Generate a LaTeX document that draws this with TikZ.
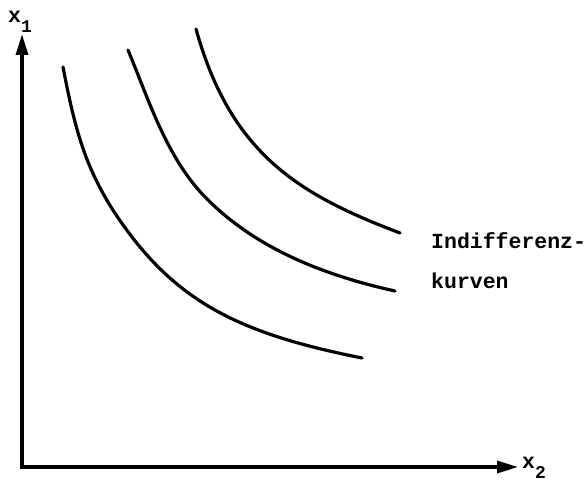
\documentclass[tikz,border=0pt]{standalone}
\usepackage{fontspec}
\setmonofont{Liberation Mono}
\usetikzlibrary{arrows.meta}
\tikzset{
  axis/.style={line width=3.4pt, -{Triangle[length=21pt,width=12pt]}},
  curve/.style={line width=3.2pt, line cap=round},
  lbl/.style={font=\ttfamily\bfseries\fontsize{21.5}{24}\selectfont, inner sep=0pt, anchor=base west},
}
\newcommand{\lowsub}[1]{\raisebox{-10pt}{\fontsize{18}{18}\selectfont #1}}
\begin{document}
\begin{tikzpicture}[x=1pt,y=-1pt]
\useasboundingbox (0,0) rectangle (588,484);
\coordinate (O) at (22,467);
\coordinate (Ytip) at (22,34);
\coordinate (Xtip) at (518,467);
\draw[axis] (22,468.7) -- (Ytip);
\draw[axis] (20.3,467) -- (Xtip);
\node[lbl] (x1) at (8,23) {x\lowsub{1}};
\node[lbl] (x2) at (522,468) {x\lowsub{2}};
\draw[curve] (63,67) .. controls (76,134.6) and (87,178.5) .. (132,237)
                     .. controls (187,308.5) and (252,336) .. (362,358);
\draw[curve] (128,50) .. controls (149.5,101.6) and (167,159) .. (207,199)
                      .. controls (247,239) and (305,271.2) .. (395,291);
\draw[curve] (196,29) .. controls (231,155) and (300,195) .. (400,233);
\node[lbl] (t1) at (431,248) {Indifferenz-};
\node[lbl] (t2) at (431,288) {kurven};
\end{tikzpicture}
\end{document}
